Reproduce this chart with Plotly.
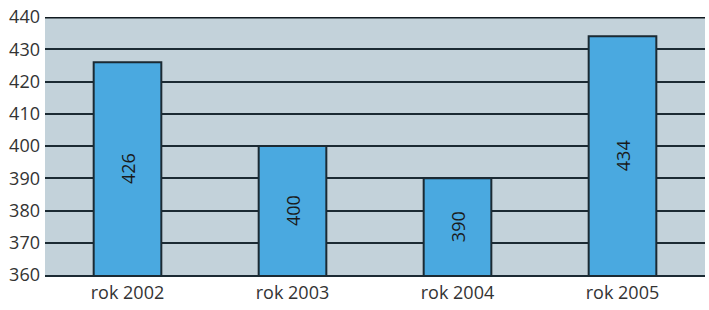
import plotly.graph_objects as go

categories = ["rok 2002", "rok 2003", "rok 2004", "rok 2005"]
values = [426, 400, 390, 434]
y_ticks = [360, 370, 380, 390, 400, 410, 420, 430, 440]
y_min, y_max = 360, 440

fig = go.Figure()
fig.add_trace(go.Bar(
    x=categories,
    y=values,
    marker=dict(color="#4aa9e0", line=dict(color="#1b2a33", width=2)),
    width=0.41,
    hoverinfo="skip",
))

for c, v in zip(categories, values):
    fig.add_annotation(
        x=c, y=(y_min + v) / 2, xref="x", yref="y",
        text=str(v), textangle=-90, showarrow=False,
        font=dict(size=18, color="#1a1a1a", family="Open Sans"),
    )

fig.update_layout(
    width=709, height=310,
    margin=dict(l=45, r=4, t=15, b=35),
    paper_bgcolor="white",
    plot_bgcolor="#c3d2da",
    showlegend=False,
    font=dict(family="Open Sans", size=18, color="#333333"),
)
fig.update_yaxes(
    range=[y_min, y_max],
    tickvals=y_ticks,
    ticktext=[str(t) for t in y_ticks],
    showgrid=True, gridcolor="#1b2a33", gridwidth=2,
    zeroline=False,
    showline=False,
    ticks="", ticklabelstandoff=4,
    tickfont=dict(size=18, color="#333333"),
)
fig.update_xaxes(
    showgrid=False,
    showline=True, linecolor="#1b2a33", linewidth=2,
    ticks="",
    tickfont=dict(size=18, color="#333333"),
)
fig.add_shape(type="line", xref="paper", yref="y", x0=0, x1=1, y0=y_max, y1=y_max,
              line=dict(color="#111a20", width=3), layer="above")

fig.write_html("out.html", config={"displayModeBar": False},
               post_script="document.body.style.margin='0';")
